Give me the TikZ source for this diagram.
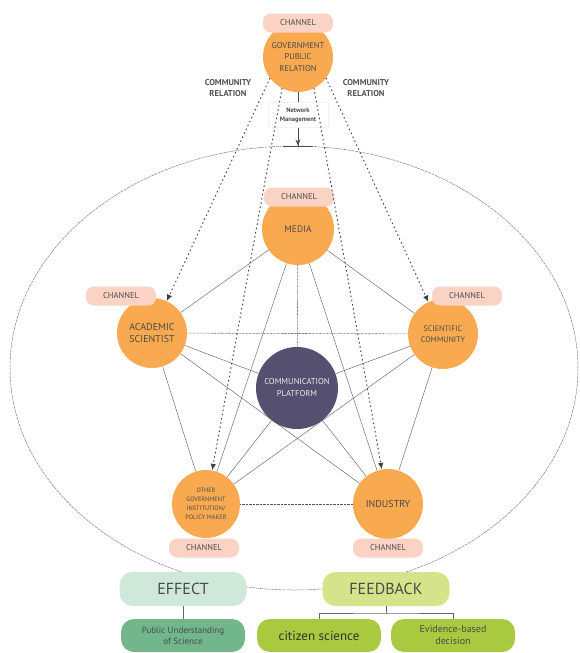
\documentclass[tikz,border=0pt]{standalone}
\usepackage{fontspec}
\setmainfont{PT Sans}
\usetikzlibrary{arrows.meta,backgrounds}
\definecolor{orng}{HTML}{F9AA50}
\definecolor{pill}{HTML}{FBD3C4}
\definecolor{plat}{HTML}{55506F}
\definecolor{txt}{HTML}{4A4A4A}
\definecolor{lne}{HTML}{555555}
\definecolor{effc}{HTML}{CFE8D9}
\definecolor{feed}{HTML}{D5E38B}
\definecolor{pusc}{HTML}{72B68B}
\definecolor{cit}{HTML}{A9C93F}
\begin{document}
\begin{tikzpicture}[x=1pt,y=-1pt,
  actor/.style={circle,fill=orng,text=txt,inner sep=0pt,align=center,minimum size=70pt,font=\fontsize{8.5}{11.5}\selectfont},
  chan/.style={rectangle,rounded corners=8pt,fill=pill,text=txt,minimum width=70pt,minimum height=19pt,inner sep=0pt,font=\fontsize{8.5}{9}\selectfont},
  net/.style={draw=lne,line width=0.4pt},
  netdot/.style={draw=lne,line width=0.6pt,dash pattern=on 0.7pt off 0.7pt},
  dotarrow/.style={draw=black!75,line width=1pt,dash pattern=on 0.9pt off 3.4pt,line cap=round,-{Latex[length=6.5pt,width=5.5pt]}},
  bbox/.style={rectangle,rounded corners=13pt,text=txt,inner sep=0pt,align=center},
  conn/.style={draw=black!60,line width=1pt},
  lbl/.style={font=\bfseries\fontsize{8.5}{11}\selectfont,text=black!68,align=center}
]
\useasboundingbox (0,0) rectangle (579,653);

% actors
\node[actor] (gov) at (298,57) {GOVERNMENT\\PUBLIC\\RELATION};
\node[chan] (govch) at (298,23) {CHANNEL};
\node[actor,minimum size=72pt,font=\fontsize{9.5}{11}\selectfont] (media) at (298,229) {MEDIA};
\node[chan] (mediach) at (299,197) {CHANNEL};
\node[actor,font=\fontsize{10}{12}\selectfont] (acad) at (152,333) {ACADEMIC\\SCIENTIST};
\node[chan] (acadch) at (121,296) {CHANNEL};
\node[actor,font=\fontsize{8}{10.5}\selectfont] (sci) at (443,334) {SCIENTIFIC\\COMMUNITY};
\node[chan] (scich) at (467,296) {CHANNEL};
\node[actor,minimum size=68pt,font=\fontsize{6.3}{9}\selectfont] (other) at (206,504) {OTHER\\GOVERNMENT\\INSTITUTION/\\POLICY MAKER};
\node[chan] (otherch) at (204,548) {CHANNEL};
\node[actor,font=\fontsize{10}{12}\selectfont] (ind) at (388,504) {INDUSTRY};
\node[chan] (indch) at (388,548) {CHANNEL};
\node[circle,fill=plat,minimum size=82pt,inner sep=0pt,align=center,text=white!88!plat,font=\fontsize{8.5}{12}\selectfont] (plat) at (297,388) {COMMUNICATION\\PLATFORM};

% labels
\node[lbl] (crl) at (228,88) {COMMUNITY\\RELATION};
\node[lbl] (crr) at (366,88) {COMMUNITY\\RELATION};
\node[fill=white,draw=black!5,font=\bfseries\fontsize{6.5}{9}\selectfont,align=center,text=black!70,minimum width=60pt,minimum height=25pt,inner sep=1pt] (nm) at (298,115) {Network\\Management};
\coordinate (etop) at (298,146);

% bottom boxes
\node[bbox,fill=effc,minimum width=127pt,minimum height=34pt,font=\fontsize{16}{18}\selectfont] (effect) at (183,589) {EFFECT};
\node[bbox,fill=feed,minimum width=127pt,minimum height=34pt,font=\fontsize{16}{18}\selectfont] (feedback) at (386,589) {FEEDBACK};
\node[bbox,fill=pusc,minimum width=124pt,minimum height=33pt,font=\fontsize{9}{11}\selectfont] (pus) at (183,635.5) {Public Understanding\\of Science};
\node[bbox,fill=cit,minimum width=124pt,minimum height=33pt,font=\fontsize{13}{15}\selectfont,text=black!80] (cits) at (319,635.5) {citizen science};
\node[bbox,fill=cit,minimum width=124pt,minimum height=33pt,font=\fontsize{10}{12}\selectfont] (evid) at (453,635.5) {Evidence-based\\decision};
\coordinate (fj) at (386,613);

\begin{pgfonlayer}{background}
\draw[draw=black!50,line width=0.5pt,dash pattern=on 3pt off 0.8pt] (294,368) ellipse [x radius=284pt, y radius=222pt];
% network
\draw[net] (media) -- (acad);
\draw[net] (media) -- (sci);
\draw[net] (media) -- (other);
\draw[net] (media) -- (ind);
\draw[net] (acad) -- (other);
\draw[net] (acad) -- (ind);
\draw[net] (sci) -- (other);
\draw[net] (sci) -- (ind);
\draw[net] (plat) -- (acad);
\draw[net] (plat) -- (sci);
\draw[net] (plat) -- (other);
\draw[net] (plat) -- (ind);
\draw[netdot] (media) -- (plat);
\draw[netdot] (acad) -- (sci);
\draw[netdot] (other) -- (ind);
\end{pgfonlayer}

% dotted arrows
\draw[dotarrow] (gov.217) -- (acad);
\draw[dotarrow] (gov.243) -- (other);
\draw[dotarrow] (gov.297) -- (ind);
\draw[dotarrow] (gov.323) -- (sci);

% network management arrow
\draw[draw=black!70,line width=0.8pt] (gov) -- (nm);
\draw[draw=black!70,line width=0.8pt,-{Stealth[length=6pt,width=5pt]Bar[width=30pt,line width=0.5pt]}] (nm) -- (etop);

% bottom connectors
\draw[conn] (effect) -- (pus);
\draw[conn] (feedback) -- (fj);
\draw[conn] (cits.north) |- (fj) -| (evid.north);
\end{tikzpicture}
\end{document}
